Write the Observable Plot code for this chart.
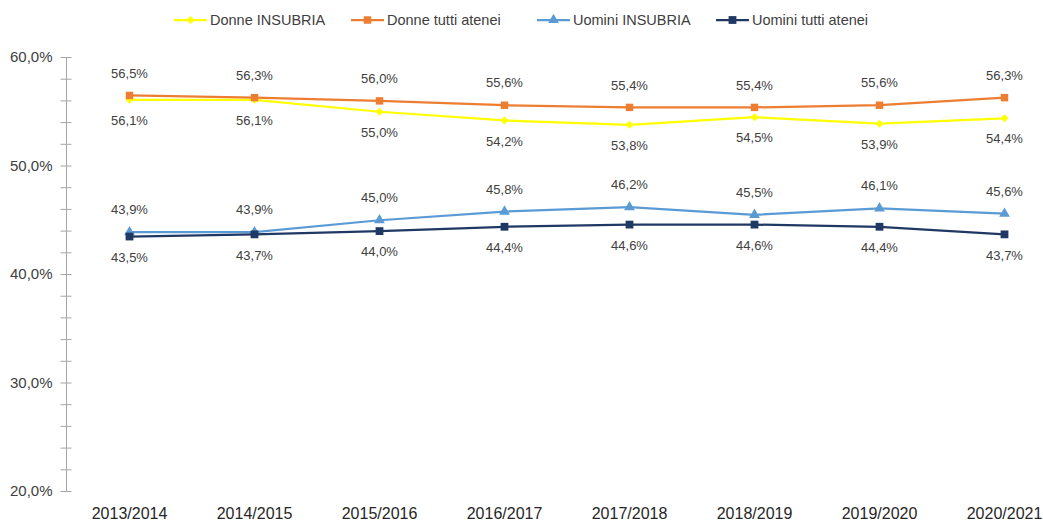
<!DOCTYPE html>
<html>
<head>
<meta charset="utf-8">
<script src="https://cdn.jsdelivr.net/npm/d3@7"></script>
<script src="https://cdn.jsdelivr.net/npm/@observablehq/plot@0.6"></script>
<style>
  html, body { margin: 0; padding: 0; background: #fff; }
  body { width: 1043px; height: 523px; overflow: hidden; font-family: "Liberation Sans", Arial, sans-serif; }
  #legend { height: 40px; position: relative; }
  .item { position: absolute; top: 12px; display: flex; align-items: center; font-size: 14.5px; color: #404040; line-height: 16px; }
  .item svg { margin-right: 3px; }
</style>
</head>
<body>
<div id="legend"></div>
<div id="chart"></div>
<script>
const years = ["2013/2014","2014/2015","2015/2016","2016/2017","2017/2018","2018/2019","2019/2020","2020/2021"];
const donneInsubria = [56.1, 56.1, 55.0, 54.2, 53.8, 54.5, 53.9, 54.4];
const donneTutti    = [56.5, 56.3, 56.0, 55.6, 55.4, 55.4, 55.6, 56.3];
const uominiInsubria = [43.9, 43.9, 45.0, 45.8, 46.2, 45.5, 46.1, 45.6];
const uominiTutti    = [43.5, 43.7, 44.0, 44.4, 44.6, 44.6, 44.4, 43.7];
const yMajorTicks = [20, 30, 40, 50, 60];
const yMinorTicks = d3.range(20, 61, 2);

const series = [
  {name: "Donne INSUBRIA", values: donneInsubria, color: "#FFFF00", symbol: "diamond2", r: 3.6, dy: 21, left: 174},
  {name: "Donne tutti atenei", values: donneTutti, color: "#ED7D31", symbol: "square", r: 4.2, dy: -22, left: 351},
  {name: "Uomini INSUBRIA", values: uominiInsubria, color: "#5B9BD5", symbol: "triangle", r: 4.0, dy: -22, left: 537},
  {name: "Uomini tutti atenei", values: uominiTutti, color: "#203864", symbol: "square", r: 4.4, dy: 21, left: 716}
];

const fmt = v => v.toFixed(1).replace(".", ",") + "%";

// Legend
const legend = document.getElementById("legend");
for (const s of series) {
  const item = document.createElement("div");
  item.className = "item";
  item.style.left = s.left + "px";
  const sym = d3.symbol(s.symbol === "diamond2" ? d3.symbolDiamond2 : s.symbol === "triangle" ? d3.symbolTriangle : d3.symbolSquare, Math.PI * s.r * s.r)();
  item.innerHTML = `<svg width="33" height="12" viewBox="0 0 33 12"><line x1="0" x2="33" y1="6" y2="6" stroke="${s.color}" stroke-width="2.25"/><path d="${sym}" transform="translate(16.5,6)" fill="${s.color}"/></svg><span>${s.name}</span>`;
  legend.appendChild(item);
}

const rows = series.flatMap(s => s.values.map((v, i) => ({series: s.name, year: years[i], value: v})));

const marks = [
  Plot.frame({anchor: "left", stroke: "#a6a6a6"}),
  Plot.axisY({ticks: yMinorTicks, tickSize: 11, dx: 5.5, tickFormat: () => "", stroke: "#a6a6a6"}),
  Plot.axisY({ticks: yMajorTicks, tickSize: 0, tickPadding: 14, tickFormat: fmt, fontSize: 15, fill: "#404040", label: null}),
  Plot.axisX({tickSize: 0, tickPadding: 16, fontSize: 16, fill: "#262626", label: null})
];
for (const s of series) {
  const data = rows.filter(d => d.series === s.name);
  marks.push(Plot.line(data, {x: "year", y: "value", stroke: s.color, strokeWidth: 2.25}));
  marks.push(Plot.dot(data, {x: "year", y: "value", symbol: () => s.symbol, r: s.r, fill: s.color, stroke: "none"}));
  marks.push(Plot.text(data, {x: "year", y: "value", text: d => fmt(d.value), dy: s.dy, fontSize: 13, fill: "#404040"}));
}

const chart = Plot.plot({
  width: 1043,
  height: 483,
  marginTop: 17,
  marginBottom: 32,
  marginLeft: 66,
  marginRight: 0,
  style: {fontFamily: "Liberation Sans, Arial, sans-serif", background: "#fff", overflow: "visible"},
  x: {type: "point", domain: years, range: [66, 1066], padding: 0.5},
  y: {domain: [20, 60], label: null},
  symbol: {type: "identity"},
  marks
});
document.getElementById("chart").appendChild(chart);
</script>
</body>
</html>
